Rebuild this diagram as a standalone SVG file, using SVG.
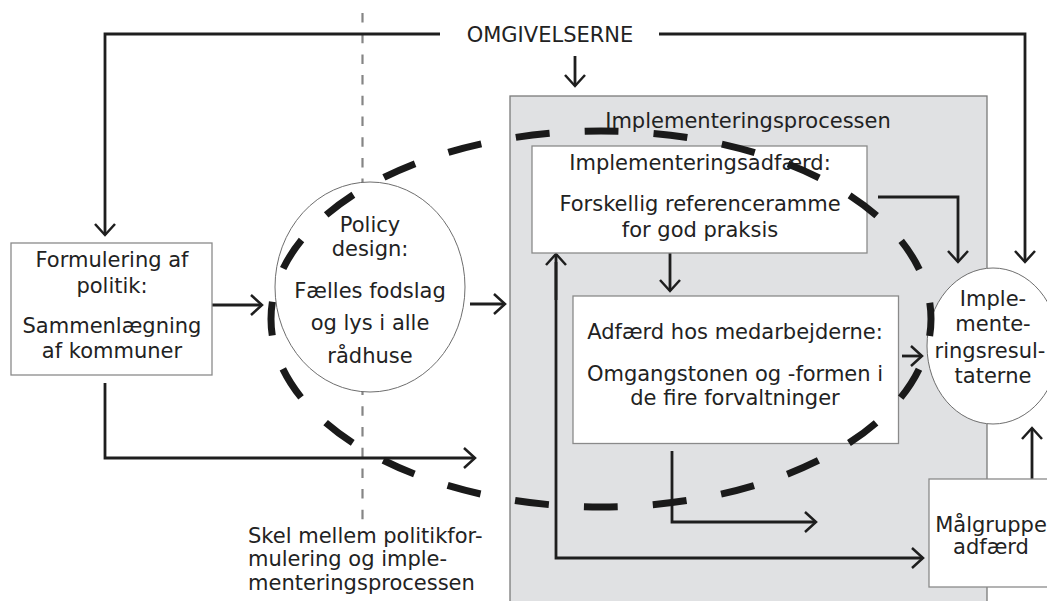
<svg xmlns="http://www.w3.org/2000/svg" width="1047" height="601" viewBox="0 0 1047 601">
  <style>
    .box { fill: #ffffff; stroke: #8a8a8a; stroke-width: 1.3; }
    .oval { fill: #ffffff; stroke: #6e6e6e; stroke-width: 1; }
    .lbl { font-family: "DejaVu Sans", Verdana, sans-serif; font-size: 21px; fill: #222222; text-anchor: middle; }
    .left { text-anchor: start; }
    .conn { fill: none; stroke: #1e1e1e; stroke-width: 2.8; }
    .arr { marker-end: url(#head); }
  </style>
  <defs>
    <marker id="head" markerUnits="userSpaceOnUse" viewBox="-15 -15 30 30" markerWidth="30" markerHeight="30" refX="0" refY="0" orient="auto" overflow="visible">
      <path d="M-11,-10 L0,0 L-11,10" fill="none" stroke="#1e1e1e" stroke-width="2.5"/>
    </marker>
  </defs>

  <rect width="1047" height="601" fill="#ffffff"/>

  <!-- implementation process area -->
  <g id="implementeringsprocessen">
    <rect x="510" y="96" width="477" height="520" fill="#e0e1e3" stroke="#7a7a7a" stroke-width="1.3"/>
    <text class="lbl" x="748" y="128">Implementeringsprocessen</text>
  </g>

  <!-- boundary between policy formulation and implementation -->
  <g id="skel">
    <line x1="362.5" y1="13" x2="362.5" y2="527" stroke="#858585" stroke-width="2.2" stroke-dasharray="9.5 11.2"/>
    <text class="lbl left" x="248" y="543">Skel mellem politikfor-</text>
    <text class="lbl left" x="248" y="566">mulering og imple-</text>
    <text class="lbl left" x="248" y="590">menteringsprocessen</text>
  </g>

  <g id="omgivelserne">
    <text class="lbl" x="550" y="42">OMGIVELSERNE</text>
  </g>

  <!-- connectors -->
  <g id="connectors">
    <path class="conn arr" d="M440,34 H105 V235"/>
    <path class="conn arr" d="M659,34 H1025 V262"/>
    <path class="conn arr" d="M575,56 V86"/>
    <path class="conn arr" d="M212,305 H262"/>
    <path class="conn arr" d="M470,304 H505"/>
    <path class="conn arr" d="M105,383 V458 H475"/>
    <path class="conn arr" d="M878,197 H958 V262"/>
    <path class="conn arr" d="M670,253 V291"/>
    <path class="conn arr" d="M556,262 V558 H923"/>
    <path class="conn arr" d="M556,300 V254"/>
    <path class="conn arr" d="M672,451 V522 H816"/>
    <path class="conn arr" d="M902,356 H922"/>
    <path class="conn arr" d="M1032,479 V428"/>
  </g>

  <g id="formulering">
    <rect class="box" x="11" y="243" width="201" height="132"/>
    <text class="lbl" x="112" y="267">Formulering af</text>
    <text class="lbl" x="112" y="293">politik:</text>
    <text class="lbl" x="112" y="333">Sammenlægning</text>
    <text class="lbl" x="112" y="358">af kommuner</text>
  </g>

  <g id="policy-design">
    <ellipse class="oval" cx="370" cy="287" rx="95" ry="105"/>
    <text class="lbl" x="370" y="232">Policy</text>
    <text class="lbl" x="370" y="256">design:</text>
    <text class="lbl" x="370" y="298">Fælles fodslag</text>
    <text class="lbl" x="370" y="330">og lys i alle</text>
    <text class="lbl" x="370" y="363">rådhuse</text>
  </g>

  <g id="implementeringsadfaerd">
    <rect class="box" x="532" y="146" width="335" height="107"/>
    <text class="lbl" x="700" y="170">Implementeringsadfærd:</text>
    <text class="lbl" x="700" y="211">Forskellig referenceramme</text>
    <text class="lbl" x="700" y="237">for god praksis</text>
  </g>

  <g id="medarbejdere">
    <rect class="box" x="573" y="296" width="325.5" height="147.5"/>
    <text class="lbl" x="735" y="339">Adfærd hos medarbejderne:</text>
    <text class="lbl" x="735" y="381">Omgangstonen og -formen i</text>
    <text class="lbl" x="735" y="405">de fire forvaltninger</text>
  </g>

  <g id="resultater">
    <ellipse class="oval" cx="993" cy="346" rx="66" ry="78"/>
    <text class="lbl" x="993" y="306">Imple-</text>
    <text class="lbl" x="993" y="331">mente-</text>
    <text class="lbl" x="990" y="358">ringsresul-</text>
    <text class="lbl" x="993" y="383">taterne</text>
  </g>

  <g id="maalgruppe">
    <rect class="box" x="929" y="479" width="130" height="108"/>
    <text class="lbl" x="991" y="532">Målgruppe</text>
    <text class="lbl" x="991" y="554">adfærd</text>
  </g>

  <!-- thick dashed ring around the policy-to-practice core -->
  <g id="ring">
    <ellipse cx="601" cy="319" rx="330" ry="188" fill="none" stroke="#1a1a1a" stroke-width="7" stroke-dasharray="34 35.09" stroke-dashoffset="17"/>
  </g>
</svg>
